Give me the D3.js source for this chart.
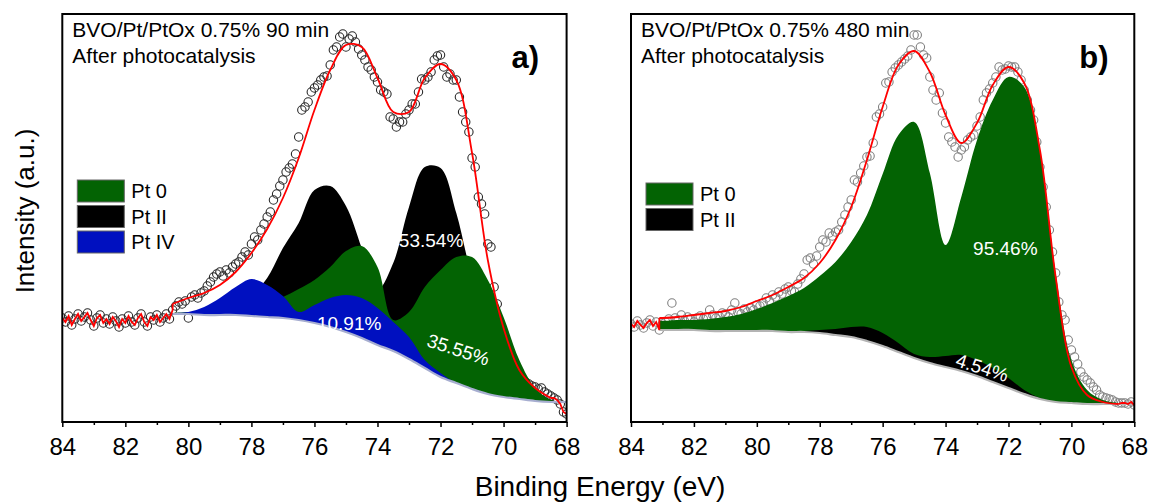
<!DOCTYPE html>
<html>
<head>
<meta charset="utf-8">
<title>Pt 4f XPS</title>
<script src="https://cdn.jsdelivr.net/npm/d3@7"></script>
<style>
  body { margin: 0; background: #fff; }
  svg { display: block; font-family: "Liberation Sans", Arial, sans-serif; }
</style>
</head>
<body>
<script>
// ---- panel a: BVO/Pt/PtOx 0.75% 90 min ----
// fitted curves sampled on this energy grid (eV)
var gridA = [80.5, 80, 79.5, 79, 78.5, 78, 77.5, 77, 76.5, 76, 75.5, 75, 74.5, 74, 73.5, 73, 72.5, 72, 71.5, 71, 70.5, 70, 69.5, 69, 68.5, 68];
var bgA = [108, 108, 107, 107, 107, 106, 105, 104, 102, 99, 95, 90, 84, 77, 71, 63, 54, 45, 39, 33, 28, 25, 23, 21, 20, 20];
var pt0A = [109, 110, 110, 111, 113, 115, 119, 125, 133, 142, 155, 171, 176, 155, 102, 110, 135, 152, 165, 165, 142, 105, 62, 34, 22, 20];
var pt2A = [108, 109, 110, 112, 118, 127, 144, 174, 199, 232, 236, 216, 174, 132, 159, 215, 255, 254, 209, 145, 102, 69, 47, 32, 22, 20];
var pt4A = [109, 110, 115, 124, 135, 143, 137, 126, 110, 117, 124, 127, 124, 114, 100, 85, 62, 49, 39, 33, 28, 25, 23, 21, 20, 20];
var envA = [118, 124, 129, 137, 150, 169, 193, 224, 264, 312, 352, 377, 375, 344, 310, 310, 344, 358, 342, 269, 162, 94, 52, 34, 24, 20];
// measured points, 84.0 -> 68.0 eV every 0.1 eV
var rawA = [104, 100, 106, 97, 103, 108, 101, 105, 109, 102, 96, 104, 107, 99, 103, 98, 105, 101, 95, 103,
  99, 106, 100, 97, 104, 108, 100, 96, 105, 102, 107, 100, 104, 108, 103,
  112, 116, 120, 118, 121, 104, 125, 127, 124, 129, 131, 136, 140, 145, 148, 150, 146, 152, 149, 155,
  158, 160, 165, 170, 167, 178, 185, 182, 192, 198, 205, 210, 222, 228, 236, 242, 250, 254, 258, 268,
  285, 312, 315, 320, 330, 334,
  337, 342, 345, 346, 357, 372, 375, 385, 388, 375, 383, 386, 380, 373, 367, 362, 355, 352, 345, 340,
  332, 330, 328, 305, 303, 295, 300, 300, 308, 312, 318, 318, 330, 343, 342, 345, 350, 362, 366, 367,
  355, 345, 348, 342, 342, 325, 310, 300, 290, 264,
  255, 225, 218, 208, 178, 175, 135, 118, 92, 89, 78, 65, 55, 52, 50, 42, 40, 38, 36, 35,
  33, 34, 30, 28, 26, 24, 22, 18, 10, 8];

// ---- panel b: BVO/Pt/PtOx 0.75% 480 min ----
var gridB = [83.1, 83, 82.5, 82, 81.5, 81, 80.5, 80, 79.5, 79, 78.5, 78, 77.5, 77, 76.5, 76, 75.5, 75, 74.5, 74, 73.5, 73, 72.5, 72, 71.5, 71, 70.5, 70, 69.5, 69, 68.5, 68];
var bgB = [92, 92, 92, 92, 91, 91, 91, 91, 91, 90, 90, 89, 87, 85, 81, 76, 70, 64, 59, 55, 51, 46, 40, 34, 28, 23, 20, 19, 18, 18, 18, 18];
var pt0B = [101, 101, 102, 102, 103, 105, 108, 113, 119, 126, 134, 146, 160, 180, 207, 248, 287, 300, 249, 177, 225, 282, 322, 345, 335, 272, 149, 62, 32, 22, 19, 18];
var pt2B = [92, 92, 92, 92, 91, 91, 91, 91, 91, 91, 91, 92, 93, 95, 95, 89, 79, 68, 65, 66, 67, 62, 54, 44, 32, 24, 20, 19, 18, 18, 18, 18];
var envB = [104, 104, 105, 107, 109, 111, 115, 121, 127, 135, 144, 159, 182, 215, 262, 315, 357, 371, 350, 307, 279, 299, 337, 355, 339, 272, 145, 55, 27, 20, 18, 18];
var rawB = [98, 95, 101, 97, 94, 99, 102, 96, 100, 92,
  98, 100, 103, 119, 104, 102, 107, 101, 105, 103, 100, 104, 106, 103, 105, 112, 107, 104, 106, 109,
  108, 105, 112, 119, 110, 108, 113, 110, 114, 112, 117, 116, 119, 124, 121, 127, 125, 130, 128, 133,
  135, 131, 130, 138, 143, 148, 162, 164, 158, 166, 175, 182, 180, 189, 186, 190, 192, 200, 207, 215,
  222, 242, 240, 249, 256, 265, 266, 279, 305, 308, 315, 339, 340, 350, 354, 357, 360, 363, 366, 372,
  387, 387, 375, 367, 364, 345, 332, 322, 329, 309, 299, 285, 280, 275, 265, 272, 275, 282, 285, 287,
  296, 305, 322, 329, 333, 339, 345, 355, 352, 353, 356, 355, 355, 350, 342, 332, 322, 312, 302, 280,
  255, 235, 215, 192, 170, 149, 120, 107, 102, 82, 72, 65, 58, 50, 45, 42, 39, 35, 32, 27,
  25, 24, 23, 22, 20, 19, 19, 19, 18, 20, 17];

var majorTicks = [84, 82, 80, 78, 76, 74, 72, 70, 68];
var minorTicks = [83, 81, 79, 77, 75, 73, 71, 69];

var width = 1151, height = 504;
var svg = d3.select('body').append('svg')
    .attr('width', width)
    .attr('height', height);

// intensity in arbitrary units, same for both panels
var y = d3.scaleLinear().domain([0, 408]).range([422, 14]);

function drawPanel(o) {
    var x = d3.scaleLinear().domain([84, 68]).range([o.left, o.right]);
    var root = svg.append('g');

    root.append('clipPath').attr('id', o.id)
        .append('rect')
        .attr('x', o.left).attr('y', 14)
        .attr('width', o.right - o.left).attr('height', 408);

    var plot = root.append('g').attr('clip-path', 'url(#' + o.id + ')');

    var pts = o.raw.map(function (v, i) { return { e: 84 - i * 0.1, v: v }; });

    // open circles first, the fits are painted over them
    plot.append('g').selectAll('circle')
        .data(pts)
        .join('circle')
        .attr('cx', function (d) { return x(d.e); })
        .attr('cy', function (d) { return y(d.v); })
        .attr('r', 4.2)
        .attr('fill', 'none')
        .attr('stroke', o.dotColor)
        .attr('stroke-width', 1.1);

    var idx = d3.range(o.grid.length);
    o.layers.forEach(function (L) {
        var area = d3.area()
            .curve(d3.curveCatmullRom)
            .x(function (i) { return x(o.grid[i]); })
            .y0(function (i) { return y(o.bg[i]); })
            .y1(function (i) { return y(L.values[i]); });
        plot.append('path').datum(idx).attr('d', area).attr('fill', L.color);
    });

    // background
    plot.append('path').datum(idx)
        .attr('d', d3.line().curve(d3.curveCatmullRom)
            .x(function (i) { return x(o.grid[i]); })
            .y(function (i) { return y(o.bg[i]); }))
        .attr('fill', 'none')
        .attr('stroke', o.bgColor)
        .attr('stroke-width', 2.2);

    // envelope, with the raw trace outside the fitted range
    var envPts = o.grid.map(function (e, i) { return { e: e, v: o.env[i] }; })
        .filter(function (d) { return d.e >= 68.45; });
    var leftNoise = pts.filter(function (d) { return d.e >= o.grid[0] - 0.01; });
    var rightNoise = pts.filter(function (d) { return d.e < 68.45; });
    var lin = d3.line().x(function (d) { return x(d.e); }).y(function (d) { return y(d.v); });
    var smooth = d3.line().curve(d3.curveCatmullRom).x(function (d) { return x(d.e); }).y(function (d) { return y(d.v); });

    plot.append('path').datum(leftNoise.concat([envPts[0]]))
        .attr('d', lin).attr('fill', 'none').attr('stroke', '#ff0000').attr('stroke-width', 1.8);
    plot.append('path').datum(envPts)
        .attr('d', smooth).attr('fill', 'none').attr('stroke', '#ff0000').attr('stroke-width', 1.8);
    plot.append('path').datum([envPts[envPts.length - 1]].concat(rightNoise))
        .attr('d', lin).attr('fill', 'none').attr('stroke', '#ff0000').attr('stroke-width', 1.8);

    // x axis
    var xAxis = d3.axisBottom(x)
        .tickValues(majorTicks)
        .tickSize(5)
        .tickSizeOuter(0)
        .tickPadding(11)
        .tickFormat(d3.format('d'));
    var ax = root.append('g').attr('transform', 'translate(0,422)').call(xAxis);
    ax.select('.domain').remove();
    ax.selectAll('line').attr('stroke', '#000').attr('stroke-width', 1.5);
    ax.selectAll('text').attr('font-size', 24).attr('fill', '#000')
        .attr('font-family', '"Liberation Sans", Arial, sans-serif');

    var minor = root.append('g').attr('transform', 'translate(0,422)')
        .call(d3.axisBottom(x).tickValues(minorTicks).tickSize(3).tickFormat(''));
    minor.select('.domain').remove();
    minor.selectAll('line').attr('stroke', '#000').attr('stroke-width', 1.5);

    // frame
    root.append('rect')
        .attr('x', o.left).attr('y', 14)
        .attr('width', o.right - o.left).attr('height', 408)
        .attr('fill', 'none').attr('stroke', '#000').attr('stroke-width', 2);

    // annotation
    root.append('text').attr('x', o.left + 10).attr('y', 37)
        .attr('font-size', 21).text(o.title);
    root.append('text').attr('x', o.left + 10).attr('y', 63)
        .attr('font-size', 21).text('After photocatalysis');
    root.append('text').attr('x', o.right - 55).attr('y', 68)
        .attr('font-size', 31).attr('font-weight', 'bold').text(o.tag);

    // legend
    var lg = root.append('g');
    o.legend.forEach(function (L, i) {
        lg.append('rect')
            .attr('x', o.left + o.legendDx).attr('y', o.legendTop + i * 25.5)
            .attr('width', 47).attr('height', 22)
            .attr('fill', L.color).attr('stroke', '#666').attr('stroke-width', 1);
        lg.append('text')
            .attr('x', o.left + o.legendDx + 54).attr('y', o.legendTop + i * 25.5 + 18)
            .attr('font-size', 20).text(L.name);
    });

    // percentage labels
    o.shares.forEach(function (s) {
        root.append('text')
            .attr('transform', 'translate(' + x(s.e) + ',' + y(s.v) + ') rotate(' + s.rot + ')')
            .attr('text-anchor', 'middle')
            .attr('font-size', 19)
            .attr('fill', '#fff')
            .text(s.text);
    });
}

drawPanel({
    id: 'clipA', left: 62.3, right: 566.6,
    grid: gridA, bg: bgA, env: envA, raw: rawA,
    dotColor: '#2a2a2a', bgColor: '#a7aed0',
    layers: [
        { values: pt2A, color: '#000000' },
        { values: pt0A, color: '#036303' },
        { values: pt4A, color: '#0010c0' }
    ],
    title: 'BVO/Pt/PtOx 0.75% 90 min', tag: 'a)',
    legendDx: 15, legendTop: 180,
    legend: [
        { name: 'Pt 0', color: '#036303' },
        { name: 'Pt II', color: '#000000' },
        { name: 'Pt IV', color: '#0010c0' }
    ],
    shares: [
        { text: '53.54%', e: 72.3, v: 175, rot: 0 },
        { text: '10.91%', e: 74.9, v: 92, rot: 0 },
        { text: '35.55%', e: 71.5, v: 66, rot: 18 }
    ]
});

drawPanel({
    id: 'clipB', left: 631, right: 1134.3,
    grid: gridB, bg: bgB, env: envB, raw: rawB,
    dotColor: '#808080', bgColor: '#b4b4b4',
    layers: [
        { values: pt0B, color: '#036303' },
        { values: pt2B, color: '#000000' }
    ],
    title: 'BVO/Pt/PtOx 0.75% 480 min', tag: 'b)',
    legendDx: 15, legendTop: 183,
    legend: [
        { name: 'Pt 0', color: '#036303' },
        { name: 'Pt II', color: '#000000' }
    ],
    shares: [
        { text: '95.46%', e: 72.1, v: 167, rot: 0 },
        { text: '4.54%', e: 72.9, v: 48, rot: 18 }
    ]
});

// axis titles
svg.append('text')
    .attr('transform', 'translate(34,211) rotate(-90)')
    .attr('text-anchor', 'middle')
    .attr('font-size', 26)
    .text('Intensity (a.u.)');

svg.append('text')
    .attr('x', 600).attr('y', 496)
    .attr('text-anchor', 'middle')
    .attr('font-size', 28)
    .text('Binding Energy (eV)');
</script>
</body>
</html>
